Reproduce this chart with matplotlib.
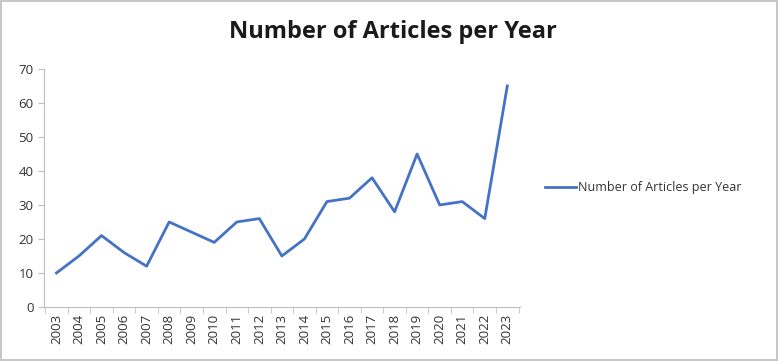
import matplotlib.pyplot as plt

years = ['2003', '2004', '2005', '2006', '2007', '2008', '2009', '2010', '2011', '2012', '2013',
         '2014', '2015', '2016', '2017', '2018', '2019', '2020', '2021', '2022', '2023']
articles = [10, 15, 21, 16, 12, 25, 22, 19, 25, 26, 15, 20, 31, 32, 38, 28, 45, 30, 31, 26, 65]

plt.rcParams['font.family'] = ['Open Sans', 'DejaVu Sans']

fig = plt.figure(figsize=(7.78, 3.61), dpi=100)
fig.patch.set_edgecolor('#c8c8c8')
fig.patch.set_linewidth(1.5)
ax = fig.add_axes([0.0566, 0.1496, 0.6114, 0.6594])

x = range(len(years))
ax.plot(x, articles, color='#4472c4', linewidth=2, label='Number of Articles per Year')

ax.set_xlim(-0.55, len(years) - 0.45)
ax.set_ylim(0, 70)
ax.set_yticks(range(0, 71, 10))
ax.set_xticks(list(x))
ax.set_xticks([i - 0.5 for i in range(len(years) + 1)], minor=True)
ax.set_xticklabels(years, rotation=90)
ax.tick_params(axis='both', labelsize=9.5, colors='#333333', length=4, color='#bfbfbf')
ax.tick_params(axis='x', which='major', length=0, pad=5)
ax.tick_params(axis='x', which='minor', length=4, color='#bfbfbf')
for s in ['top', 'right']:
    ax.spines[s].set_visible(False)
for s in ['left', 'bottom']:
    ax.spines[s].set_color('#bfbfbf')

fig.text(0.505, 0.91, 'Number of Articles per Year', ha='center', va='center',
         fontsize=17, fontweight='bold', color='#1a1a1a')

ax.legend(loc='center left', bbox_to_anchor=(1.03, 0.5), frameon=False,
          fontsize=9.0, handlelength=2.5, handletextpad=0.15, labelcolor='#333333')

plt.savefig('out.png', dpi=100)
